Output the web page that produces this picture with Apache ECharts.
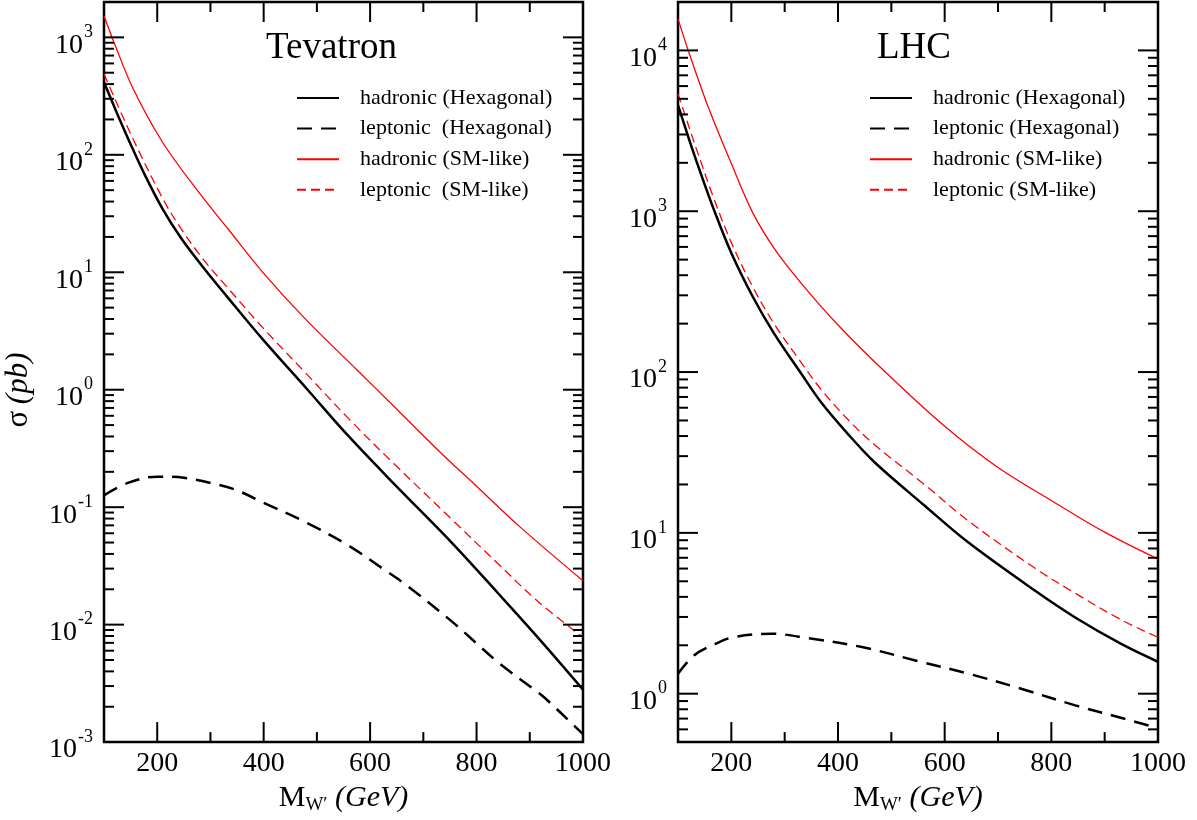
<!DOCTYPE html>
<html>
<head>
<meta charset="utf-8">
<title>W' cross sections</title>
<script src="https://cdn.jsdelivr.net/npm/echarts@6/dist/echarts.min.js"></script>
<style>
  html, body { margin: 0; padding: 0; background: #fff; }
  #chart { width: 1197px; height: 820px; }
</style>
</head>
<body>
<div id="chart"></div>
<script>
// ---- Tevatron panel (sigma in pb vs M_W' in GeV) ----
var tevMassHadHex = [100, 125, 150, 175, 210, 245, 290, 330, 400, 480, 560, 645, 755, 840, 915, 1000];
var tevSigHadHex  = [414, 223, 123, 70, 34.7, 19.5, 10.5, 6.3, 2.63, 1.03, 0.40, 0.158, 0.049, 0.0186, 0.0078, 0.0028];

var tevMassLepHex = [100, 145, 200, 250, 300, 345, 400, 480, 560, 625, 670, 755, 840, 915, 930, 1000];
var tevSigLepHex  = [0.126, 0.161, 0.182, 0.178, 0.161, 0.142, 0.109, 0.074, 0.047, 0.0297, 0.0214, 0.0105, 0.0048, 0.00266, 0.00234, 0.00117];

var tevMassHadSM = [100, 120, 155, 210, 275, 335, 400, 480, 575, 645, 740, 800, 880, 1000];
var tevSigHadSM  = [1525, 877, 363, 128, 50, 22.8, 9.8, 3.93, 1.48, 0.72, 0.27, 0.151, 0.069, 0.0236];

var tevMassLepSM = [100, 150, 210, 245, 290, 330, 400, 480, 560, 645, 755, 840, 915, 1000];
var tevSigLepSM  = [487, 151, 42.7, 23.4, 12.3, 7.59, 3.31, 1.37, 0.565, 0.234, 0.0776, 0.0331, 0.0158, 0.0078];

// ---- LHC panel ----
var lhcMassHadHex = [100, 120, 140, 166, 200, 240, 280, 329, 369, 420, 469, 562, 644, 769, 844, 931, 1000];
var lhcSigHadHex  = [4570, 2850, 1820, 1050, 550, 295, 174, 100, 64.4, 40.7, 27.4, 14.8, 8.73, 4.38, 2.99, 2.04, 1.58];

var lhcMassLepHex = [100, 130, 170, 205, 275, 345, 445, 545, 645, 745, 845, 925, 1000];
var lhcSigLepHex  = [1.33, 1.73, 2.04, 2.25, 2.36, 2.21, 1.95, 1.61, 1.33, 1.07, 0.846, 0.716, 0.61];

var lhcMassHadSM = [100, 120, 155, 200, 240, 280, 330, 400, 490, 600, 700, 800, 900, 1000];
var lhcSigHadSM  = [15700, 9800, 4600, 1980, 980, 590, 360, 196, 99, 46, 25.5, 15.9, 10.1, 6.87];

var lhcMassLepSM = [100, 120, 140, 166, 200, 240, 280, 329, 369, 420, 469, 562, 644, 769, 844, 931, 1000];
var lhcSigLepSM  = [5370, 3390, 2160, 1230, 638, 339, 200, 117, 77.4, 50.1, 35.2, 20.0, 11.9, 6.04, 4.23, 2.88, 2.24];

var tevNames = ['hadronic (Hexagonal)', 'leptonic  (Hexagonal)', 'hadronic (SM-like)', 'leptonic  (SM-like)'];
var lhcNames = ['hadronic (Hexagonal)', 'leptonic (Hexagonal)', 'hadronic (SM-like)', 'leptonic (SM-like)'];

// tick positions
var xMajorTicks = [200, 400, 600, 800];
var xMinorTicks = [300, 500, 700, 900];
var tevDecades = [0.001, 0.01, 0.1, 1, 10, 100, 1000];
var lhcDecades = [0.1, 1, 10, 100, 1000, 10000];
var minorMult = [2, 3, 4, 5, 6, 7, 8, 9];

var F = 'Liberation Serif';
var X_MIN = 100, X_MAX = 1000;

function powLabel(v) {
    var e = Math.log10(v), r = Math.round(e);
    if (Math.abs(e - r) > 1e-6) return '';
    return '{b|10}{s|' + r + '}';
}

function buildTicks(decades, ymin, ymax) {
    var out = [];
    xMajorTicks.forEach(function (x) { out.push([x, ymin, 0, 20]); });
    xMinorTicks.forEach(function (x) { out.push([x, ymin, 0, 10]); });
    decades.forEach(function (d) {
        if (d > ymin * 1.0001 && d < ymax * 0.9999) out.push([X_MIN, d, 1, 20]);
        minorMult.forEach(function (m) {
            var v = d * m;
            if (v > ymin * 1.0001 && v < ymax * 0.9999) out.push([X_MIN, v, 1, 10]);
        });
    });
    return out;
}

function tickSeries(gi, ticks) {
    return {
        type: 'custom',
        xAxisIndex: gi,
        yAxisIndex: gi,
        silent: true,
        clip: false,
        z: 6,
        data: ticks,
        renderItem: function (params, api) {
            var cs = params.coordSys;
            var p = api.coord([api.value(0), api.value(1)]);
            var len = api.value(3);
            var st = { stroke: '#000', lineWidth: 2 };
            if (api.value(2) === 0) {
                var x = p[0];
                return { type: 'group', children: [
                    { type: 'line', shape: { x1: x, y1: cs.y + cs.height, x2: x, y2: cs.y + cs.height - len }, style: st },
                    { type: 'line', shape: { x1: x, y1: cs.y, x2: x, y2: cs.y + len }, style: st }
                ] };
            }
            var y = p[1];
            return { type: 'group', children: [
                { type: 'line', shape: { x1: cs.x, y1: y, x2: cs.x + len, y2: y }, style: st },
                { type: 'line', shape: { x1: cs.x + cs.width, y1: y, x2: cs.x + cs.width - len, y2: y }, style: st }
            ] };
        }
    };
}

function curve(name, gi, mass, sig, color, width, dash) {
    return {
        name: name,
        type: 'line',
        xAxisIndex: gi,
        yAxisIndex: gi,
        data: mass.map(function (m, i) { return [m, sig[i]]; }),
        symbol: 'none',
        showSymbol: false,
        smooth: 0.35,
        silent: true,
        z: 3,
        itemStyle: { color: color },
        lineStyle: { color: color, width: width, type: dash || 'solid' }
    };
}

function xAxisCfg(gi) {
    return {
        type: 'value', gridIndex: gi, min: X_MIN, max: X_MAX, interval: 100,
        axisLine: { show: false }, axisTick: { show: false }, splitLine: { show: false },
        axisLabel: {
            margin: 8, color: '#000', fontFamily: F, fontSize: 28,
            formatter: function (v) { return v % 200 === 0 ? String(v) : ''; }
        },
        name: '{m|M}{s|W\u2032}{g| (GeV)}',
        nameLocation: 'middle',
        nameGap: 39,
        nameTextStyle: {
            lineHeight: 32,
            rich: {
                m: { fontFamily: F, fontSize: 30, color: '#000', verticalAlign: 'top', height: 30, lineHeight: 32 },
                s: { fontFamily: F, fontSize: 19, color: '#000', verticalAlign: 'bottom', height: 19, lineHeight: 32 },
                g: { fontFamily: F, fontSize: 30, fontStyle: 'italic', color: '#000', verticalAlign: 'top', height: 30, lineHeight: 32 }
            }
        }
    };
}

function yAxisCfg(gi, min, max, withName) {
    var cfg = {
        type: 'log', gridIndex: gi, min: min, max: max, logBase: 10,
        axisLine: { show: false }, axisTick: { show: false }, splitLine: { show: false },
        axisLabel: {
            margin: 11, color: '#000', formatter: powLabel,
            lineHeight: 36, padding: [8, 0, 0, 0],
            rich: {
                b: { fontFamily: F, fontSize: 28, color: '#000', verticalAlign: 'bottom', height: 28, lineHeight: 36 },
                s: { fontFamily: F, fontSize: 18, color: '#000', verticalAlign: 'top', height: 18, lineHeight: 36, padding: [0, 0, 0, 1] }
            }
        }
    };
    if (withName) {
        cfg.name = '{a|\u03c3}  {i|(pb)}';
        cfg.nameLocation = 'middle';
        cfg.nameRotate = 90;
        cfg.nameGap = 70;
        cfg.nameTextStyle = {
            padding: [0, 36, 0, 0],
            rich: {
                a: { fontFamily: F, fontSize: 31, color: '#000' },
                i: { fontFamily: F, fontSize: 31, fontStyle: 'italic', color: '#000' }
            }
        };
    }
    return cfg;
}

function legendCfg(left, names) {
    return {
        orient: 'vertical', left: left, top: 87,
        padding: 0,
        itemWidth: 42, itemHeight: 22, itemGap: 8.6,
        selectedMode: false,
        data: names,
        itemStyle: { opacity: 0 },
        textStyle: { fontFamily: F, fontSize: 22, color: '#000', lineHeight: 22, padding: [0, 0, 0, 16] }
    };
}

var chart = echarts.init(document.getElementById('chart'), null, { renderer: 'canvas' });

var option = {
    animation: false,
    backgroundColor: '#fff',
    title: [
        { text: 'Tevatron', left: 261, top: 25, textStyle: { fontFamily: F, fontSize: 37, fontWeight: 'normal', color: '#000' } },
        { text: 'LHC', left: 872, top: 25, textStyle: { fontFamily: F, fontSize: 37, fontWeight: 'normal', color: '#000' } }
    ],
    legend: [legendCfg(296, tevNames), legendCfg(869, lhcNames)],
    grid: [
        { left: 104, top: 2, width: 479, height: 741, show: true, borderColor: '#000', borderWidth: 2.5, backgroundColor: 'transparent' },
        { left: 678, top: 2, width: 480, height: 741, show: true, borderColor: '#000', borderWidth: 2.5, backgroundColor: 'transparent' }
    ],
    xAxis: [xAxisCfg(0), xAxisCfg(1)],
    yAxis: [yAxisCfg(0, 0.001, 2000, true), yAxisCfg(1, 0.5, 20000, false)],
    series: [
        curve(tevNames[0], 0, tevMassHadHex, tevSigHadHex, '#000', 2.5),
        curve(tevNames[1], 0, tevMassLepHex, tevSigLepHex, '#000', 2.5, [15, 9]),
        curve(tevNames[2], 0, tevMassHadSM, tevSigHadSM, '#ff0000', 1.3),
        curve(tevNames[3], 0, tevMassLepSM, tevSigLepSM, '#ff0000', 1.3, [9, 5]),
        curve(lhcNames[0], 1, lhcMassHadHex, lhcSigHadHex, '#000', 2.5),
        curve(lhcNames[1], 1, lhcMassLepHex, lhcSigLepHex, '#000', 2.5, [15, 9]),
        curve(lhcNames[2], 1, lhcMassHadSM, lhcSigHadSM, '#ff0000', 1.3),
        curve(lhcNames[3], 1, lhcMassLepSM, lhcSigLepSM, '#ff0000', 1.3, [9, 5]),
        tickSeries(0, buildTicks(tevDecades, 0.001, 2000)),
        tickSeries(1, buildTicks(lhcDecades, 0.5, 20000))
    ]
};

chart.setOption(option);
</script>
</body>
</html>
